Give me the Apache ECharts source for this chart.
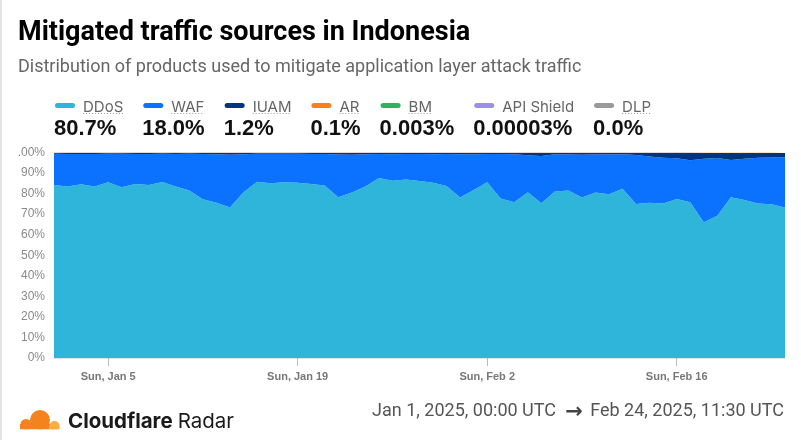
<!DOCTYPE html>
<html>
<head>
<meta charset="utf-8">
<script src="https://cdn.jsdelivr.net/npm/echarts@6/dist/echarts.min.js"></script>
<style>
  html, body { margin: 0; padding: 0; background: #fff; }
  #chart { width: 801px; height: 440px; }
</style>
</head>
<body>
<div id="chart"></div>
<script>
// series names, colours and the period totals shown in the legend
const seriesNames = ['DDoS', 'WAF', 'IUAM', 'AR', 'BM', 'API Shield', 'DLP']
const seriesColors = ['#2fb4da', '#0a72ff', '#003681', '#f6821f', '#2db35e', '#9b8fe6', '#9a9a9a']
const totals = ['80.7%', '18.0%', '1.2%', '0.1%', '0.003%', '0.00003%', '0.0%']
const hasInfo = [true, true, true, true, true, false, true]

// one point per day, Jan 1 .. Feb 24 2025
const startDate = '2025-01-01'
const dayCount = 55
const tickDates = ['2025-01-05', '2025-01-19', '2025-02-02', '2025-02-16']

const ddos = [84.2, 83.4, 84.5, 83.4, 85.5, 83.1, 84.7, 84.2, 85.6, 83.4,
  81.5, 77.3, 75.6, 73.2, 80.6, 85.8, 85.0, 85.5, 85.3, 84.7,
  84.0, 78.2, 80.5, 83.4, 87.6, 86.3, 86.9, 86.1, 85.3, 83.7,
  78.1, 81.8, 85.5, 77.6, 75.8, 80.6, 75.3, 81.0, 81.5, 78.1,
  80.5, 79.7, 82.3, 75.0, 75.6, 75.2, 77.4, 75.8, 66.0, 69.2,
  78.2, 76.9, 75.2, 74.8, 73.2]
const waf = [15.2, 15.9, 14.8, 15.9, 13.9, 16.3, 14.6, 15.1, 13.8, 15.9,
  17.9, 22.0, 23.5, 25.7, 18.5, 13.6, 14.4, 13.9, 14.1, 14.6,
  15.3, 20.8, 18.4, 15.7, 11.7, 12.9, 12.4, 13.2, 13.9, 15.6,
  21.1, 17.4, 13.8, 21.7, 23.4, 18.1, 23.0, 18.1, 17.5, 20.8,
  18.5, 19.3, 16.9, 23.8, 22.4, 22.2, 19.8, 20.4, 30.9, 28.1,
  18.2, 20.0, 22.3, 22.8, 24.4]
const iuam = [0.52, 0.62, 0.62, 0.62, 0.52, 0.52, 0.62, 0.62, 0.52, 0.62,
  0.52, 0.62, 0.82, 1.02, 0.82, 0.52, 0.52, 0.52, 0.52, 0.62,
  0.62, 0.92, 1.02, 0.82, 0.62, 0.72, 0.62, 0.62, 0.72, 0.62,
  0.72, 0.72, 0.62, 0.62, 0.72, 1.22, 1.62, 0.82, 0.92, 1.02,
  0.92, 0.85, 0.65, 1.05, 1.85, 2.45, 2.65, 3.65, 2.9, 2.5,
  3.4, 2.9, 2.3, 2.2, 2.2]
const ar = [0.08, 0.08, 0.08, 0.08, 0.08, 0.08, 0.08, 0.08, 0.08, 0.08,
  0.08, 0.08, 0.08, 0.08, 0.08, 0.08, 0.08, 0.08, 0.08, 0.08,
  0.08, 0.08, 0.08, 0.08, 0.08, 0.08, 0.08, 0.08, 0.08, 0.08,
  0.08, 0.08, 0.08, 0.08, 0.08, 0.08, 0.08, 0.08, 0.08, 0.08,
  0.08, 0.15, 0.15, 0.15, 0.15, 0.15, 0.15, 0.15, 0.2, 0.2,
  0.2, 0.2, 0.2, 0.2, 0.2]
const bm = [0.003, 0.003, 0.003, 0.003, 0.003, 0.003, 0.003, 0.003, 0.003, 0.003,
  0.003, 0.003, 0.003, 0.003, 0.003, 0.003, 0.003, 0.003, 0.003, 0.003,
  0.003, 0.003, 0.003, 0.003, 0.003, 0.003, 0.003, 0.003, 0.003, 0.003,
  0.003, 0.003, 0.003, 0.003, 0.003, 0.003, 0.003, 0.003, 0.003, 0.003,
  0.003, 0.003, 0.003, 0.003, 0.003, 0.003, 0.003, 0.003, 0.003, 0.003,
  0.003, 0.003, 0.003, 0.003, 0.003]
const apiShield = [0, 0, 0, 0, 0, 0, 0, 0, 0, 0,
  0, 0, 0, 0, 0, 0, 0, 0, 0, 0,
  0, 0, 0, 0, 0, 0, 0, 0.00003, 0, 0,
  0, 0, 0, 0, 0, 0, 0, 0, 0, 0,
  0, 0, 0, 0, 0, 0, 0, 0, 0, 0,
  0, 0, 0, 0, 0]
const dlp = [0, 0, 0, 0, 0, 0, 0, 0, 0, 0,
  0, 0, 0, 0, 0, 0, 0, 0, 0, 0,
  0, 0, 0, 0, 0, 0, 0, 0, 0, 0,
  0, 0, 0, 0, 0, 0, 0, 0, 0, 0,
  0, 0, 0, 0, 0, 0, 0, 0, 0, 0,
  0, 0, 0, 0, 0]
const seriesData = [ddos, waf, iuam, ar, bm, apiShield, dlp]

const dateRangeFrom = 'Jan 1, 2025, 00:00 UTC'
const dateRangeTo = 'Feb 24, 2025, 11:30 UTC'

const days = []
const t0 = Date.parse(startDate + 'T00:00:00Z')
for (let i = 0; i < dayCount; i++) {
  days.push(new Date(t0 + i * 86400000).toISOString().slice(0, 10))
}

const MONTHS = ['Jan', 'Feb', 'Mar', 'Apr', 'May', 'Jun', 'Jul', 'Aug', 'Sep', 'Oct', 'Nov', 'Dec']
const WEEKDAYS = ['Sun', 'Mon', 'Tue', 'Wed', 'Thu', 'Fri', 'Sat']
function dayLabel (iso) {
  const d = new Date(iso + 'T00:00:00Z')
  return WEEKDAYS[d.getUTCDay()] + ', ' + MONTHS[d.getUTCMonth()] + ' ' + d.getUTCDate()
}
const isTick = (idx, value) => tickDates.indexOf(value) >= 0

// text measuring for the legend layout
const ctx = document.createElement('canvas').getContext('2d')
function textWidth (text, font) {
  ctx.font = font
  return ctx.measureText(text).width
}

const LABEL_FONT = '15px Inter'
const VALUE_FONT = 'bold 22px "Liberation Sans"'
const BRAND_BOLD = 'bold 20.5px Inter'
const BRAND_REG = '20.5px Inter'
const RANGE_FONT = '18px Roboto'

const graphic = [
  { type: 'rect', shape: { x: 0, y: 0, width: 2, height: 440 }, style: { fill: '#e4e4e4' } },
  { type: 'text', x: 18, y: 33.5, style: { text: 'Mitigated traffic sources in Indonesia', font: 'bold 27px Roboto', fill: '#000', verticalAlign: 'middle' } },
  { type: 'text', x: 18, y: 67, style: { text: 'Distribution of products used to mitigate application layer attack traffic', font: '18px Roboto', fill: '#666', verticalAlign: 'middle' } }
]

let lx = 54
seriesNames.forEach((name, i) => {
  const lw = textWidth(name, LABEL_FONT)
  const vw = textWidth(totals[i], VALUE_FONT)
  graphic.push({ type: 'rect', shape: { x: lx + 1, y: 103, width: 20, height: 5, r: 2.5 }, style: { fill: seriesColors[i] } })
  graphic.push({ type: 'text', x: lx + 29, y: 107, style: { text: name, font: LABEL_FONT, fill: '#666', verticalAlign: 'middle' } })
  if (hasInfo[i]) {
    graphic.push({ type: 'line', shape: { x1: lx + 29, y1: 113.5, x2: lx + 29 + lw, y2: 113.5 }, style: { stroke: '#999', lineWidth: 1, lineDash: [1, 2] } })
  }
  graphic.push({ type: 'text', x: lx, y: 128.5, style: { text: totals[i], font: VALUE_FONT, fill: '#111', verticalAlign: 'middle' } })
  lx += Math.max(29 + lw, vw) + 19
})

// footer: logo (two clouds), brand and the date range
const cloudDark = '#f6821f'
const cloudLight = '#fbad41'
graphic.push({ type: 'rect', shape: { x: 20, y: 424, width: 32, height: 5.5 }, style: { fill: cloudDark } })
graphic.push({ type: 'circle', shape: { cx: 26, cy: 424.5, r: 5.5 }, style: { fill: cloudDark } })
graphic.push({ type: 'circle', shape: { cx: 40, cy: 420, r: 10 }, style: { fill: cloudDark } })
graphic.push({ type: 'rect', shape: { x: 49, y: 426, width: 10.5, height: 3.5 }, style: { fill: cloudLight } })
graphic.push({ type: 'circle', shape: { cx: 54.5, cy: 426, r: 5 }, style: { fill: cloudLight } })
graphic.push({ type: 'rect', shape: { x: 14, y: 429.5, width: 50, height: 6 }, style: { fill: '#fff' } })
graphic.push({ type: 'text', x: 68, y: 421.7, style: { text: 'Cloudflare', font: BRAND_BOLD, fill: '#1a1a1a', verticalAlign: 'middle' } })
graphic.push({ type: 'text', x: 68 + textWidth('Cloudflare', BRAND_BOLD) + 5, y: 421.7, style: { text: 'Radar', font: BRAND_REG, fill: '#1a1a1a', verticalAlign: 'middle' } })
graphic.push({ type: 'text', x: 784, y: 411.5, style: { text: dateRangeTo, font: RANGE_FONT, fill: '#555', align: 'right', verticalAlign: 'middle' } })
graphic.push({ type: 'text', x: 574, y: 413, style: { text: '→', font: 'bold 21px "DejaVu Sans"', fill: '#444', align: 'center', verticalAlign: 'middle' } })
graphic.push({ type: 'text', x: 556, y: 411.5, style: { text: dateRangeFrom, font: RANGE_FONT, fill: '#555', align: 'right', verticalAlign: 'middle' } })

const chart = echarts.init(document.getElementById('chart'))
chart.setOption({
  animation: false,
  grid: { left: 54, right: 16, top: 152.5, bottom: 82 },
  xAxis: {
    type: 'category',
    boundaryGap: false,
    data: days,
    axisLine: { show: true, lineStyle: { color: '#e2e2e2' } },
    axisTick: { show: true, interval: isTick, length: 8, lineStyle: { color: '#bbbbbb' } },
    axisLabel: {
      interval: isTick,
      formatter: dayLabel,
      margin: 13,
      color: '#777',
      fontFamily: 'Liberation Sans',
      fontWeight: 'bold',
      fontSize: 11
    },
    splitLine: { show: false }
  },
  yAxis: {
    type: 'value',
    min: 0,
    max: 100,
    interval: 10,
    axisLine: { show: false },
    axisTick: { show: false },
    splitLine: { show: false },
    axisLabel: {
      margin: 9,
      color: '#8a8a8a',
      fontFamily: 'Liberation Sans',
      fontSize: 12,
      formatter: v => (v === 100 ? '.00%' : v + '%')
    }
  },
  series: seriesNames.map((name, i) => ({
    name: name,
    type: 'line',
    stack: 'total',
    data: seriesData[i],
    symbol: 'none',
    lineStyle: { width: 0 },
    itemStyle: { color: seriesColors[i] },
    areaStyle: { color: seriesColors[i], opacity: 1 },
    emphasis: { disabled: true }
  })),
  graphic: graphic
})
</script>
</body>
</html>
